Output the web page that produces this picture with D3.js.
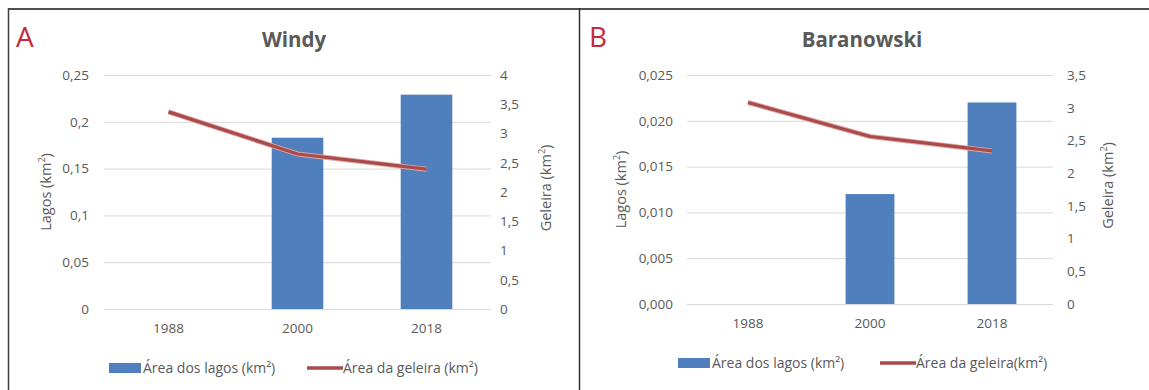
<!DOCTYPE html>
<html>
<head>
<meta charset="utf-8">
<script src="https://cdn.jsdelivr.net/npm/d3@7"></script>
<style>
  html, body { margin: 0; padding: 0; background: #fff; }
  svg { display: block; font-family: "Open Sans", "Noto Sans", sans-serif; }
</style>
</head>
<body>
<svg id="chart" width="1149" height="390"></svg>
<script>
// Survey years shared by both glaciers
const years = ["1988", "2000", "2018"];

// Windy glacier: lake area (km²) and glacier area (km²)
const windyLakes = [0, 0.183, 0.229];
const windyGlacier = [3.37, 2.65, 2.39];
const windyLakeTicks = [0, 0.05, 0.1, 0.15, 0.2, 0.25];
const windyLakeTickLabels = ["0", "0,05", "0,1", "0,15", "0,2", "0,25"];
const windyGlacierTicks = [0, 0.5, 1, 1.5, 2, 2.5, 3, 3.5, 4];
const windyGlacierTickLabels = ["0", "0,5", "1", "1,5", "2", "2,5", "3", "3,5", "4"];

// Baranowski glacier: lake area (km²) and glacier area (km²)
const baranLakes = [0, 0.012, 0.022];
const baranGlacier = [3.08, 2.56, 2.34];
const baranLakeTicks = [0, 0.005, 0.01, 0.015, 0.02, 0.025];
const baranLakeTickLabels = ["0,000", "0,005", "0,010", "0,015", "0,020", "0,025"];
const baranGlacierTicks = [0, 0.5, 1, 1.5, 2, 2.5, 3, 3.5];
const baranGlacierTickLabels = ["0", "0,5", "1", "1,5", "2", "2,5", "3", "3,5"];

const BAR = "#4f7fbc";
const LINE = "#a84b4a";
const LINE_GLOW = "#e2a6a4";
const GRID = "#d9d9d9";
const TEXT = "#595959";
const FONT = "Open Sans, Noto Sans, sans-serif";

const svg = d3.select("#chart");

// Panel frames
svg.append("line").attr("x1", 8).attr("x2", 1149).attr("y1", 9).attr("y2", 9)
  .attr("stroke", "#505050").attr("stroke-width", 2);
svg.append("line").attr("x1", 8.5).attr("x2", 8.5).attr("y1", 8).attr("y2", 390)
  .attr("stroke", "#404040").attr("stroke-width", 1.5);
svg.append("line").attr("x1", 579.5).attr("x2", 579.5).attr("y1", 8).attr("y2", 390)
  .attr("stroke", "#303030").attr("stroke-width", 1.5);

function drawPanel(p) {
  const g = svg.append("g");

  const x = d3.scaleBand().domain(years).range([p.left, p.right]).paddingInner(0.6).paddingOuter(0.3);
  const cat = d3.scaleBand().domain(years).range([p.left, p.right]);
  const yL = d3.scaleLinear().domain([0, p.lakeMax]).range([p.bottom, p.top]);
  const yR = d3.scaleLinear().domain([0, p.glacierMax]).range([p.bottom, p.top]);

  // Panel letter
  g.append("text").attr("x", p.letterX).attr("y", 47)
    .attr("font-size", 28).attr("fill", "#c42a3c").text(p.letter);

  // Title
  g.append("text").attr("x", p.titleX).attr("y", 47)
    .attr("text-anchor", "middle").attr("font-size", 20.5).attr("font-weight", "bold")
    .attr("fill", TEXT).text(p.title);

  // Gridlines + left axis labels
  const leftAxis = d3.axisLeft(yL)
    .tickValues(p.lakeTicks)
    .tickFormat((d, i) => p.lakeTickLabels[i])
    .tickSize(-(p.right - p.left))
    .tickPadding(p.leftPad);
  const ga = g.append("g").attr("transform", `translate(${p.left},0)`).call(leftAxis);
  ga.select(".domain").remove();
  ga.selectAll(".tick line").attr("stroke", GRID).attr("stroke-width", 1);
  ga.selectAll(".tick text").attr("fill", TEXT).attr("font-size", 13.5).attr("font-family", FONT);

  // Right axis labels
  const rightAxis = d3.axisRight(yR)
    .tickValues(p.glacierTicks)
    .tickFormat((d, i) => p.glacierTickLabels[i])
    .tickSize(0)
    .tickPadding(p.rightPad);
  const gr = g.append("g").attr("transform", `translate(${p.right},0)`).call(rightAxis);
  gr.select(".domain").remove();
  gr.selectAll(".tick text").attr("fill", TEXT).attr("font-size", 13.5).attr("font-family", FONT);

  // Category axis labels
  const bottomAxis = d3.axisBottom(cat).tickSize(0).tickPadding(p.catPad);
  const gb = g.append("g").attr("transform", `translate(0,${p.bottom})`).call(bottomAxis);
  gb.select(".domain").remove();
  gb.selectAll(".tick text").attr("fill", TEXT).attr("font-size", 13.5).attr("font-family", FONT);

  // Lake area bars
  g.selectAll("rect.bar").data(years).enter().append("rect")
    .attr("class", "bar")
    .attr("x", d => x(d))
    .attr("width", x.bandwidth())
    .attr("y", (d, i) => yL(p.lakes[i]))
    .attr("height", (d, i) => p.bottom - yL(p.lakes[i]))
    .attr("fill", BAR);

  // Glacier area line (soft halo under a darker core)
  const line = d3.line()
    .x((d, i) => cat(years[i]) + cat.bandwidth() / 2)
    .y(d => yR(d));
  g.append("path").datum(p.glacier)
    .attr("d", line).attr("fill", "none")
    .attr("stroke", LINE_GLOW).attr("stroke-width", 5).attr("stroke-linejoin", "round");
  g.append("path").datum(p.glacier)
    .attr("d", line).attr("fill", "none")
    .attr("stroke", LINE).attr("stroke-width", 3.2).attr("stroke-linejoin", "round");

  // Axis titles
  const midY = (p.top + p.bottom) / 2;
  g.append("text")
    .attr("transform", `translate(${p.leftTitleX},${midY}) rotate(-90)`)
    .attr("text-anchor", "middle").attr("font-size", 14.5).attr("fill", TEXT)
    .attr("dy", "0.35em")
    .html("Lagos (km<tspan dy='-6' font-size='9'>2</tspan><tspan dy='6'>)</tspan>");
  g.append("text")
    .attr("transform", `translate(${p.rightTitleX},${midY - 4}) rotate(-90)`)
    .attr("text-anchor", "middle").attr("font-size", 14.5).attr("fill", TEXT)
    .attr("dy", "0.35em")
    .html("Geleira (km<tspan dy='-6' font-size='9'>2</tspan><tspan dy='6'>)</tspan>");

  // Legend
  const lg = g.append("g");
  lg.append("rect").attr("x", p.legendX).attr("y", p.legendY - 5)
    .attr("width", 32).attr("height", 10).attr("fill", BAR);
  lg.append("text").attr("x", p.legendX + 34).attr("y", p.legendY).attr("dy", "0.35em")
    .attr("font-size", 14).attr("fill", TEXT).text("Área dos lagos (km²)");
  lg.append("line").attr("x1", p.legend2X).attr("x2", p.legend2X + 36)
    .attr("y1", p.legendY).attr("y2", p.legendY)
    .attr("stroke", LINE).attr("stroke-width", 3.5);
  lg.append("text").attr("x", p.legend2X + 36).attr("y", p.legendY).attr("dy", "0.35em")
    .attr("font-size", 14).attr("fill", TEXT).text(p.legend2Text);
}

drawPanel({
  letter: "A", letterX: 16, title: "Windy", titleX: 294,
  left: 104, right: 491, top: 75, bottom: 309,
  lakeMax: 0.25, glacierMax: 4,
  lakes: windyLakes, glacier: windyGlacier,
  lakeTicks: windyLakeTicks, lakeTickLabels: windyLakeTickLabels,
  glacierTicks: windyGlacierTicks, glacierTickLabels: windyGlacierTickLabels,
  leftPad: 15, rightPad: 9, catPad: 14,
  leftTitleX: 46, rightTitleX: 546,
  legendX: 109, legend2X: 307, legendY: 368,
  legend2Text: "Área da geleira (km²)"
});

drawPanel({
  letter: "B", letterX: 589, title: "Baranowski", titleX: 862,
  left: 687, right: 1053, top: 75, bottom: 304,
  lakeMax: 0.025, glacierMax: 3.5,
  lakes: baranLakes, glacier: baranGlacier,
  lakeTicks: baranLakeTicks, lakeTickLabels: baranLakeTickLabels,
  glacierTicks: baranGlacierTicks, glacierTickLabels: baranGlacierTickLabels,
  leftPad: 14, rightPad: 14, catPad: 14,
  leftTitleX: 621, rightTitleX: 1108,
  legendX: 678, legend2X: 880, legendY: 363,
  legend2Text: "Área da geleira(km²)"
});
</script>
</body>
</html>
